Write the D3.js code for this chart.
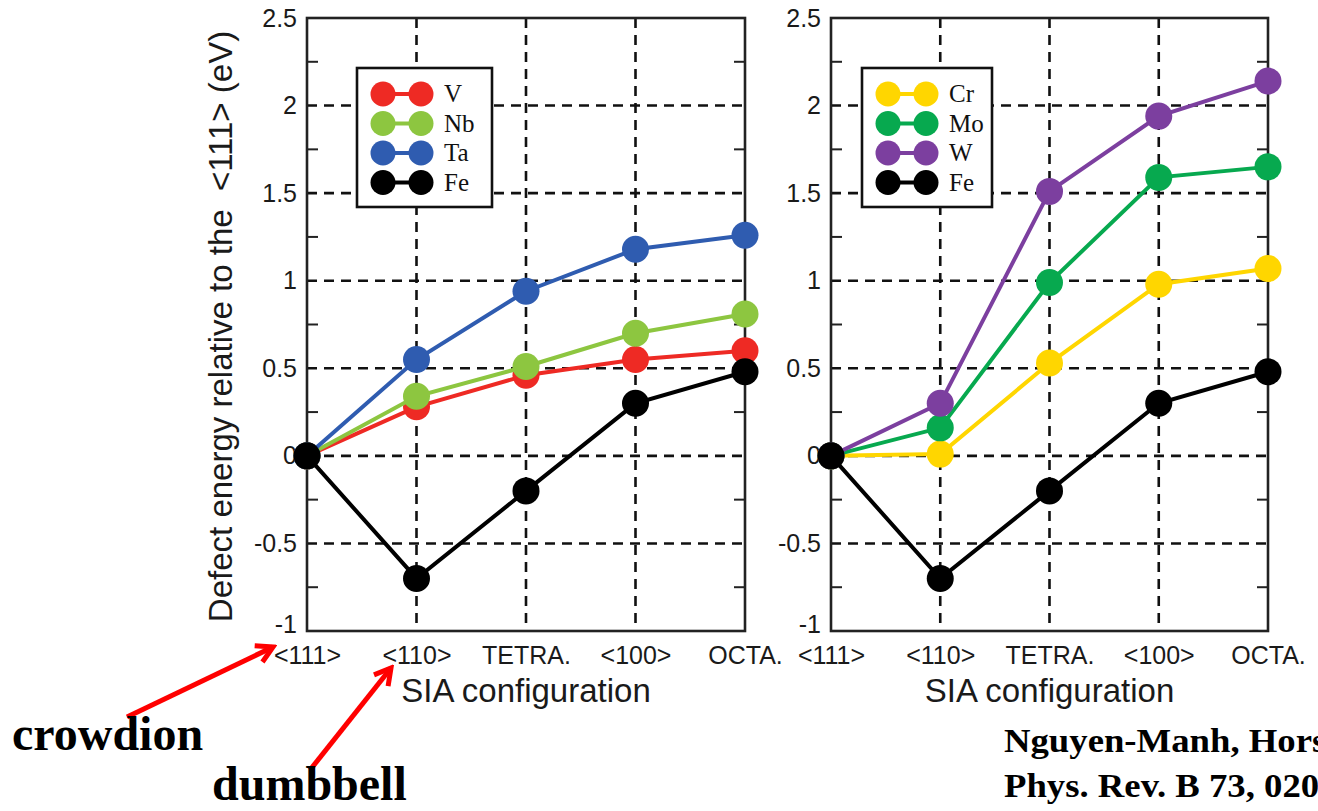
<!DOCTYPE html>
<meta charset="utf-8">
<script src="https://d3js.org/d3.v7.min.js"></script>
<style>
  html, body { margin: 0; padding: 0; background: #fff; overflow: hidden; }
  svg { display: block; }
  .tick text { font-family: "Liberation Sans", Arial, Helvetica, sans-serif; }
</style>
<body>
<div id="chart"></div>
<script>
// SIA configurations along x, energies in eV relative to <111>
var configs = ["<111>", "<110>", "TETRA.", "<100>", "OCTA."];
var yTicks = [-1, -0.5, 0, 0.5, 1, 1.5, 2, 2.5];
var yMinor = [-0.75, -0.25, 0.25, 0.75, 1.25, 1.75, 2.25];

var vVals  = [0, 0.28, 0.46, 0.55, 0.60];
var nbVals = [0, 0.34, 0.51, 0.70, 0.81];
var taVals = [0, 0.55, 0.94, 1.18, 1.26];
var feVals = [0, -0.70, -0.20, 0.30, 0.48];

var crVals = [0, 0.01, 0.53, 0.98, 1.07];
var moVals = [0, 0.16, 0.99, 1.59, 1.65];
var wVals  = [0, 0.30, 1.51, 1.94, 2.14];

var leftSeries = [
  { name: "V",  color: "#ee2a24", values: vVals },
  { name: "Nb", color: "#8dc640", values: nbVals },
  { name: "Ta", color: "#2f5cb0", values: taVals },
  { name: "Fe", color: "#000000", values: feVals }
];
var rightSeries = [
  { name: "Cr", color: "#ffd600", values: crVals },
  { name: "Mo", color: "#07a94f", values: moVals },
  { name: "W",  color: "#7c3f9f", values: wVals },
  { name: "Fe", color: "#000000", values: feVals }
];

var W = 1318, H = 811;
var top_ = 18, bottom_ = 631;
var sansFont = '"Liberation Sans", Arial, Helvetica, sans-serif';
var serifFont = '"Liberation Serif", "Times New Roman", Times, serif';

var svg = d3.select("#chart").append("svg")
  .attr("width", W).attr("height", H);

var y = d3.scaleLinear().domain([-1, 2.5]).range([bottom_, top_]);

// arrowhead for the annotations
svg.append("defs").append("marker")
  .attr("id", "arrowhead")
  .attr("markerUnits", "userSpaceOnUse")
  .attr("viewBox", "-20 -12 24 24")
  .attr("refX", 0).attr("refY", 0)
  .attr("markerWidth", 24).attr("markerHeight", 24)
  .attr("orient", "auto")
  .append("path")
  .attr("d", "M-16,-9 L0,0 L-16,9")
  .attr("fill", "none")
  .attr("stroke", "#ff0000")
  .attr("stroke-width", 5)
  .attr("stroke-linejoin", "miter");

function drawPanel(x0, x1, series, legendBox) {
  var x = d3.scalePoint().domain(configs).range([x0, x1]).padding(0);
  var g = svg.append("g");

  // dashed grid
  g.selectAll(".vgrid").data(configs.slice(1, -1)).enter().append("line")
    .attr("x1", function(d) { return x(d); }).attr("x2", function(d) { return x(d); })
    .attr("y1", top_).attr("y2", bottom_)
    .attr("stroke", "#111").attr("stroke-width", 2.6).attr("stroke-dasharray", "10,7");
  g.selectAll(".hgrid").data(yTicks.slice(1, -1)).enter().append("line")
    .attr("x1", x0).attr("x2", x1)
    .attr("y1", function(d) { return y(d); }).attr("y2", function(d) { return y(d); })
    .attr("stroke", "#111").attr("stroke-width", 2.6).attr("stroke-dasharray", "10,7");

  // minor ticks on both vertical borders
  g.selectAll(".minorL").data(yMinor).enter().append("line")
    .attr("x1", x0).attr("x2", x0 + 11)
    .attr("y1", function(d) { return y(d); }).attr("y2", function(d) { return y(d); })
    .attr("stroke", "#222").attr("stroke-width", 2);
  g.selectAll(".minorR").data(yMinor).enter().append("line")
    .attr("x1", x1).attr("x2", x1 - 11)
    .attr("y1", function(d) { return y(d); }).attr("y2", function(d) { return y(d); })
    .attr("stroke", "#222").attr("stroke-width", 2);

  // frame
  g.append("rect")
    .attr("x", x0).attr("y", top_)
    .attr("width", x1 - x0).attr("height", bottom_ - top_)
    .attr("fill", "none").attr("stroke", "#222").attr("stroke-width", 2.6);

  // axes (labels only)
  var yAxis = g.append("g").attr("transform", "translate(" + x0 + ",0)")
    .call(d3.axisLeft(y).tickValues(yTicks).tickSize(0).tickPadding(10)
      .tickFormat(function(d) { return String(d); }));
  yAxis.select(".domain").remove();
  yAxis.selectAll("text").attr("font-size", 25).attr("fill", "#1a1a1a");
  // the -1 label sits a little higher than the rest
  yAxis.selectAll(".tick").filter(function(d) { return d === -1; })
    .select("text").attr("dy", "0.05em");

  var xAxis = g.append("g").attr("transform", "translate(0," + bottom_ + ")")
    .call(d3.axisBottom(x).tickSize(0).tickPadding(15));
  xAxis.select(".domain").remove();
  xAxis.selectAll("text").attr("font-size", 25).attr("fill", "#1a1a1a");

  g.append("text")
    .attr("x", (x0 + x1) / 2).attr("y", 702)
    .attr("text-anchor", "middle")
    .attr("font-family", sansFont).attr("font-size", 33).attr("fill", "#1a1a1a")
    .text("SIA configuration");

  // lines and markers
  var line = d3.line()
    .x(function(d, i) { return x(configs[i]); })
    .y(function(d) { return y(d); });

  series.forEach(function(s) {
    var sg = g.append("g");
    sg.append("path")
      .attr("d", line(s.values))
      .attr("fill", "none").attr("stroke", s.color).attr("stroke-width", 4);
    sg.selectAll("circle").data(s.values).enter().append("circle")
      .attr("cx", function(d, i) { return x(configs[i]); })
      .attr("cy", function(d) { return y(d); })
      .attr("r", 13.5)
      .attr("fill", s.color);
  });

  // legend
  var lg = g.append("g");
  lg.append("rect")
    .attr("x", legendBox.x).attr("y", legendBox.y)
    .attr("width", legendBox.w).attr("height", legendBox.h)
    .attr("fill", "#fff").attr("stroke", "#111").attr("stroke-width", 2.6);
  var item = lg.selectAll(".item").data(series).enter().append("g")
    .attr("transform", function(d, i) {
      return "translate(" + legendBox.x + "," + (legendBox.y + 26 + i * 29.5) + ")";
    });
  item.append("line")
    .attr("x1", 26).attr("x2", 64).attr("y1", 0).attr("y2", 0)
    .attr("stroke", function(d) { return d.color; }).attr("stroke-width", 4);
  item.append("circle").attr("cx", 26).attr("cy", 0).attr("r", 12.5)
    .attr("fill", function(d) { return d.color; });
  item.append("circle").attr("cx", 64).attr("cy", 0).attr("r", 12.5)
    .attr("fill", function(d) { return d.color; });
  item.append("text")
    .attr("x", 87).attr("y", 8)
    .attr("font-family", serifFont).attr("font-size", 25).attr("fill", "#111")
    .text(function(d) { return d.name; });
}

drawPanel(307, 745, leftSeries, { x: 357, y: 68, w: 135, h: 139 });
drawPanel(831, 1268, rightSeries, { x: 862, y: 68, w: 130, h: 139 });

// y axis title (left panel only)
svg.append("text")
  .attr("transform", "translate(232," + ((top_ + bottom_) / 2 + 2) + ") rotate(-90)")
  .attr("text-anchor", "middle")
  .attr("font-family", sansFont).attr("font-size", 33).attr("fill", "#1a1a1a")
  .style("white-space", "pre")
  .text("Defect energy relative to the  <111> (eV)");

// annotations
svg.append("line")
  .attr("x1", 127).attr("y1", 717).attr("x2", 273).attr("y2", 647)
  .attr("stroke", "#ff0000").attr("stroke-width", 5)
  .attr("marker-end", "url(#arrowhead)");
svg.append("line")
  .attr("x1", 310).attr("y1", 770).attr("x2", 391).attr("y2", 668)
  .attr("stroke", "#ff0000").attr("stroke-width", 5)
  .attr("marker-end", "url(#arrowhead)");

svg.append("text")
  .attr("x", 12).attr("y", 750)
  .attr("font-family", serifFont).attr("font-weight", "bold").attr("font-size", 48)
  .attr("fill", "#000")
  .text("crowdion");
svg.append("text")
  .attr("x", 212).attr("y", 800)
  .attr("font-family", serifFont).attr("font-weight", "bold").attr("font-size", 48)
  .attr("fill", "#000")
  .text("dumbbell");

// citation, slightly wide type as in the source slide
svg.append("text")
  .attr("transform", "translate(1004,752) scale(1.08,1)")
  .attr("font-family", serifFont).attr("font-weight", "bold").attr("font-size", 34)
  .attr("fill", "#000")
  .text("Nguyen-Manh, Horsfield, Dudarev");
svg.append("text")
  .attr("transform", "translate(1004,797) scale(1.08,1)")
  .attr("font-family", serifFont).attr("font-weight", "bold").attr("font-size", 34)
  .attr("fill", "#000")
  .text("Phys. Rev. B 73, 020101 (2006)");
</script>
</body>
